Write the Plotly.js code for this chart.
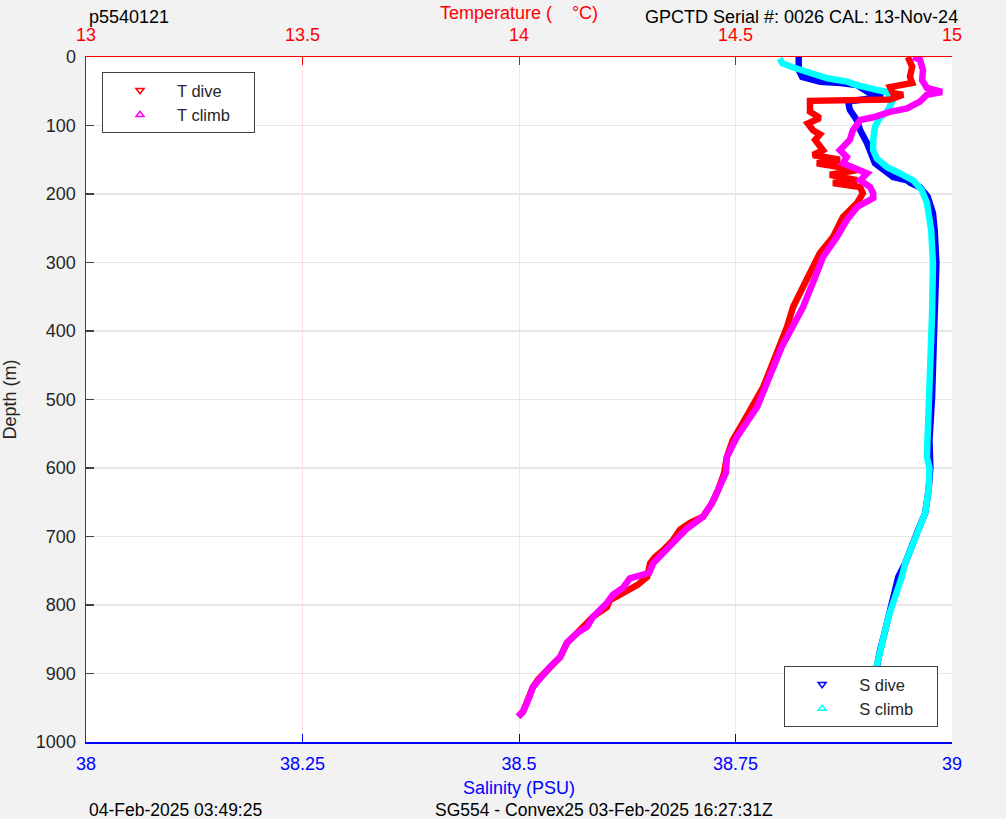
<!DOCTYPE html>
<html>
<head>
<meta charset="utf-8">
<script src="https://cdn.plot.ly/plotly-3.0.1.min.js"></script>
<style>
  html, body { margin: 0; padding: 0; background: #f2f2f2; }
  #chart { width: 1006px; height: 819px; }
</style>
</head>
<body>
<div id="chart"></div>
<script>
// ---- Data ----
const tDiveDepth = [0, 14, 29, 38, 44, 53, 55, 62, 64, 80, 89, 97, 107, 113, 121, 136, 143, 150, 155, 165, 172, 180, 184, 190, 199, 213, 234, 263, 286, 307, 336, 365, 394, 447, 482, 534, 559, 584, 607, 632, 651, 671, 680, 690, 705, 720, 730, 739, 759, 771, 785, 793, 803, 817, 841, 855, 876, 890, 909, 920, 939, 956, 963];
const tDive = [14.898, 14.908, 14.903, 14.908, 14.857, 14.864, 14.887, 14.857, 14.672, 14.672, 14.695, 14.667, 14.679, 14.695, 14.684, 14.702, 14.679, 14.741, 14.688, 14.781, 14.718, 14.781, 14.725, 14.788, 14.794, 14.781, 14.748, 14.725, 14.695, 14.679, 14.656, 14.633, 14.619, 14.587, 14.564, 14.517, 14.494, 14.480, 14.474, 14.460, 14.446, 14.425, 14.395, 14.372, 14.356, 14.333, 14.314, 14.303, 14.296, 14.273, 14.233, 14.210, 14.203, 14.171, 14.134, 14.111, 14.095, 14.072, 14.044, 14.032, 14.021, 14.009, 13.998];

const tClimbDepth = [0, 4, 19, 34, 45, 51, 55, 65, 75, 80, 88, 92, 107, 121, 136, 146, 155, 161, 170, 180, 190, 199, 206, 219, 238, 263, 292, 315, 340, 365, 423, 511, 555, 584, 607, 632, 651, 671, 690, 705, 720, 739, 753, 761, 775, 785, 797, 817, 832, 841, 855, 876, 890, 909, 920, 939, 956, 963];
const tClimb = [14.910, 14.926, 14.933, 14.931, 14.942, 14.977, 14.942, 14.926, 14.896, 14.857, 14.818, 14.788, 14.771, 14.764, 14.741, 14.757, 14.748, 14.771, 14.804, 14.788, 14.811, 14.818, 14.818, 14.781, 14.757, 14.734, 14.702, 14.688, 14.672, 14.656, 14.607, 14.550, 14.503, 14.480, 14.478, 14.462, 14.446, 14.425, 14.385, 14.362, 14.340, 14.310, 14.301, 14.256, 14.240, 14.217, 14.203, 14.171, 14.157, 14.134, 14.111, 14.095, 14.072, 14.044, 14.032, 14.021, 14.009, 13.998];

const sDiveDepth = [0, 19, 29, 31, 36, 38, 41, 53, 58, 65, 77, 92, 107, 126, 146, 155, 175, 180, 184, 190, 204, 228, 253, 301, 374, 423, 496, 559, 600, 632, 666, 690, 715, 739, 759, 788, 812, 836, 866, 895, 920, 943, 963];
const sDive = [38.823, 38.823, 38.827, 38.836, 38.848, 38.871, 38.890, 38.905, 38.920, 38.880, 38.882, 38.890, 38.894, 38.902, 38.909, 38.911, 38.932, 38.948, 38.952, 38.963, 38.972, 38.978, 38.980, 38.982, 38.980, 38.979, 38.977, 38.974, 38.975, 38.973, 38.969, 38.961, 38.954, 38.946, 38.938, 38.933, 38.928, 38.923, 38.917, 38.912, 38.909, 38.905, 38.902];

const sClimbDepth = [2, 9, 15, 24, 31, 36, 41, 48, 51, 65, 80, 88, 102, 121, 136, 148, 161, 170, 180, 194, 213, 253, 301, 374, 472, 520, 584, 600, 632, 666, 690, 715, 739, 759, 788, 812, 836, 866, 895, 920, 943, 963];
const sClimb = [38.801, 38.804, 38.816, 38.836, 38.856, 38.879, 38.890, 38.913, 38.925, 38.931, 38.925, 38.917, 38.911, 38.909, 38.909, 38.913, 38.925, 38.940, 38.955, 38.965, 38.971, 38.976, 38.978, 38.977, 38.975, 38.973, 38.971, 38.974, 38.973, 38.969, 38.961, 38.954, 38.946, 38.942, 38.934, 38.928, 38.923, 38.917, 38.912, 38.909, 38.905, 38.901];

const depthTicks = [0, 100, 200, 300, 400, 500, 600, 700, 800, 900, 1000];
const tempTicks = [13, 13.5, 14, 14.5, 15];
const tempTickText = ['13', '13.5', '14', '14.5', '15'];
const salTicks = [38, 38.25, 38.5, 38.75, 39];
const salTickText = ['38', '38.25', '38.5', '38.75', '39'];

const seriesNames = ['T dive', 'T climb', 'S dive', 'S climb'];

const FONT = 'Liberation Sans, Arial, Helvetica, sans-serif';
const RED = '#ff0000', MAG = '#ff00ff', BLUE = '#0000ff', CYAN = '#00ffff';
const AXGRAY = '#404040', TXT = '#262626';
const PAD = '\u00a0\u00a0\u00a0\u00a0';

function dataTrace(x, y, color, xaxis) {
  return {
    x: x, y: y, xaxis: xaxis, yaxis: 'y',
    type: 'scatter', mode: 'lines',
    line: { color: color, width: 6.5, shape: 'linear' },
    showlegend: false, hoverinfo: 'x+y'
  };
}
function legendTrace(name, color, symbol, xaxis, legend) {
  return {
    x: [null], y: [null], xaxis: xaxis, yaxis: 'y',
    type: 'scatter', mode: 'markers', name: name + PAD, legend: legend,
    marker: { color: color, symbol: symbol, size: 7, line: { color: color, width: 1.5 } },
    showlegend: true
  };
}

const traces = [
  dataTrace(tDive, tDiveDepth, RED, 'x2'),
  dataTrace(tClimb, tClimbDepth, MAG, 'x2'),
  dataTrace(sDive, sDiveDepth, BLUE, 'x'),
  dataTrace(sClimb, sClimbDepth, CYAN, 'x'),
  legendTrace(seriesNames[0], RED, 'triangle-down-open', 'x2', 'legend'),
  legendTrace(seriesNames[1], MAG, 'triangle-up-open', 'x2', 'legend'),
  legendTrace(seriesNames[2], BLUE, 'triangle-down-open', 'x', 'legend2'),
  legendTrace(seriesNames[3], CYAN, 'triangle-up-open', 'x', 'legend2')
];

const legendCommon = {
  bgcolor: '#ffffff', bordercolor: AXGRAY, borderwidth: 1,
  font: { family: FONT, size: 16.5, color: TXT },
  itemwidth: 64, tracegroupgap: 0
};

const layout = {
  width: 1006, height: 819,
  paper_bgcolor: '#f2f2f2', plot_bgcolor: '#ffffff',
  margin: { l: 86, r: 54, t: 57, b: 77, pad: 0 },
  font: { family: FONT, size: 18, color: TXT },
  showlegend: true,
  xaxis: {
    range: [38, 39], side: 'bottom', anchor: 'y',
    tickmode: 'array', tickvals: salTicks, ticktext: salTickText,
    ticks: 'inside', ticklen: 8, tickcolor: BLUE, tickwidth: 1,
    showline: true, linecolor: BLUE, linewidth: 1.5,
    showgrid: false, zeroline: false, ticklabelstandoff: 5,
    tickfont: { family: FONT, size: 18, color: BLUE },
    title: { text: 'Salinity (PSU)', font: { family: FONT, size: 18, color: BLUE }, standoff: 8 },
    automargin: false
  },
  xaxis2: {
    range: [13, 15], side: 'top', overlaying: 'x', anchor: 'y',
    tickmode: 'array', tickvals: tempTicks, ticktext: tempTickText,
    ticks: 'inside', ticklen: 8, tickcolor: RED, tickwidth: 1,
    showline: true, linecolor: RED, linewidth: 1.5,
    showgrid: true, gridcolor: '#fde2e2', gridwidth: 1, zeroline: false, ticklabelstandoff: 7,
    tickfont: { family: FONT, size: 18, color: RED },
    title: { text: 'Temperature (\u00a0\u00a0\u00a0\u00a0°C)', font: { family: FONT, size: 18, color: RED }, standoff: 1 },
    automargin: false
  },
  yaxis: {
    range: [1000, 0], side: 'left', anchor: 'x',
    tickmode: 'array', tickvals: depthTicks,
    ticks: 'inside', ticklen: 8, tickcolor: AXGRAY, tickwidth: 1.5,
    showline: true, linecolor: AXGRAY, linewidth: 1.5,
    showgrid: true, gridcolor: '#e6e6e6', gridwidth: 1.5, zeroline: false, ticklabelstandoff: 5,
    tickfont: { family: FONT, size: 18, color: TXT },
    title: { text: 'Depth (m)', font: { family: FONT, size: 18, color: TXT }, standoff: 14 },
    automargin: false
  },
  yaxis2: {
    range: [1000, 0], side: 'right', overlaying: 'y', anchor: 'x',
    tickmode: 'array', tickvals: depthTicks,
    ticks: 'inside', ticklen: 8, tickcolor: AXGRAY, tickwidth: 1.5,
    showline: true, linecolor: AXGRAY, linewidth: 1.5,
    showgrid: false, zeroline: false,
    tickfont: { family: FONT, size: 18, color: TXT },
    automargin: false
  },
  legend: Object.assign({}, legendCommon, {
    x: 0.0185, y: 0.978, xanchor: 'left', yanchor: 'top', xref: 'paper', yref: 'paper'
  }),
  legend2: Object.assign({}, legendCommon, {
    x: 0.984, y: 0.022, xanchor: 'right', yanchor: 'bottom', xref: 'paper', yref: 'paper'
  }),
  annotations: [
    { text: 'p5540121', xref: 'paper', yref: 'paper', x: 0.001, y: 1.0584, xanchor: 'left', yanchor: 'middle', showarrow: false, font: { family: FONT, size: 18, color: '#000000' } },
    { text: 'GPCTD Serial #: 0026 CAL: 13-Nov-24', xref: 'paper', yref: 'paper', x: 1.0092, y: 1.0584, xanchor: 'right', yanchor: 'middle', showarrow: false, font: { family: FONT, size: 18, color: '#000000' } },
    { text: '04-Feb-2025 03:49:25', xref: 'paper', yref: 'paper', x: 0.001, y: -0.0993, xanchor: 'left', yanchor: 'middle', showarrow: false, font: { family: FONT, size: 17.5, color: '#000000' } },
    { text: 'SG554 - Convex25 03-Feb-2025 16:27:31Z', xref: 'paper', yref: 'paper', x: 0.4007, y: -0.0993, xanchor: 'left', yanchor: 'middle', showarrow: false, font: { family: FONT, size: 17.5, color: '#000000' } }
  ]
};

Plotly.newPlot('chart', traces, layout, { staticPlot: true, displayModeBar: false });
</script>
</body>
</html>
